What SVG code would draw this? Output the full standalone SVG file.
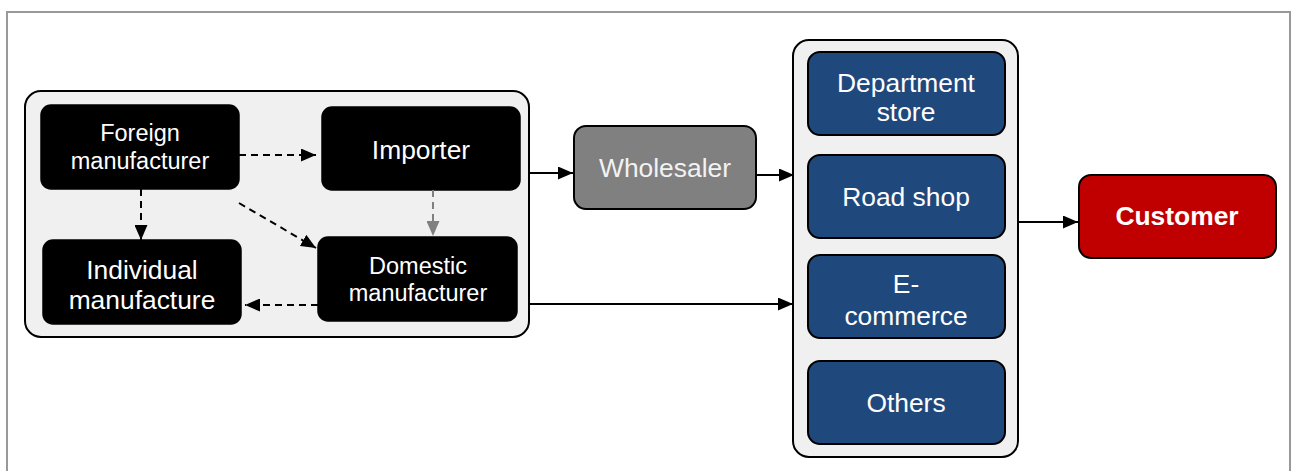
<svg xmlns="http://www.w3.org/2000/svg" width="1296" height="471" viewBox="0 0 1296 471">
<style>
text{font-family:"Liberation Sans",Arial,sans-serif;fill:#fff;text-anchor:middle}
.s{font-size:23.5px}
.b{font-size:26.4px}
.cont{fill:#f0f0f0;stroke:#000;stroke-width:2}
.blk{fill:#000;stroke:#000;stroke-width:1.5}
.blue{fill:#1f497d;stroke:#000;stroke-width:2}
.c{stroke:#000;stroke-width:2;fill:none}
.d{stroke-dasharray:7,5}
</style>
<defs>
<marker id="ab" viewBox="0 0 15 13" refX="15" refY="6.5" markerWidth="15" markerHeight="13" orient="auto" markerUnits="userSpaceOnUse"><path d="M0,0L15,6.5L0,13z" fill="#000"/></marker>
<marker id="ag" viewBox="0 0 15 13" refX="15" refY="6.5" markerWidth="15" markerHeight="13" orient="auto" markerUnits="userSpaceOnUse"><path d="M0,0L15,6.5L0,13z" fill="#808080"/></marker>
</defs>
<path d="M7,471V12H1290V471" fill="none" stroke="#999" stroke-width="2"/>
<g id="left-group"><rect class="cont" x="25" y="91" width="504" height="246" rx="16"/></g>
<g id="right-group"><rect class="cont" x="793" y="40" width="225" height="417" rx="16"/></g>
<g id="foreign"><rect class="blk" x="41" y="105" width="198" height="84" rx="10"/><text class="s" x="140" y="141">Foreign</text><text class="s" x="140" y="169">manufacturer</text></g>
<g id="importer"><rect class="blk" x="322" y="107" width="198" height="83" rx="10"/><text class="b" x="421" y="159">Importer</text></g>
<g id="individual"><rect class="blk" x="43" y="240" width="198" height="84" rx="10"/><text class="b" x="142" y="279">Individual</text><text class="b" x="142" y="309">manufacture</text></g>
<g id="domestic"><rect class="blk" x="318" y="237" width="199" height="84" rx="10"/><text class="s" x="418" y="274">Domestic</text><text class="s" x="418" y="301">manufacturer</text></g>
<g id="wholesaler"><rect x="574" y="126" width="182" height="83" rx="12" fill="#808080" stroke="#000" stroke-width="2"/><text class="b" x="665" y="177" style="fill:#f2f2f2">Wholesaler</text></g>
<g id="department"><rect class="blue" x="808" y="52" width="197" height="83" rx="12"/><text class="b" x="906" y="92">Department</text><text class="b" x="906" y="121">store</text></g>
<g id="roadshop"><rect class="blue" x="808" y="155" width="197" height="83" rx="12"/><text class="b" x="906" y="206">Road shop</text></g>
<g id="ecommerce"><rect class="blue" x="808" y="255" width="197" height="83" rx="12"/><text class="b" x="906" y="293">E-</text><text class="b" x="906" y="325">commerce</text></g>
<g id="others"><rect class="blue" x="808" y="361" width="197" height="83" rx="12"/><text class="b" x="906" y="412">Others</text></g>
<g id="customer"><rect x="1079" y="175" width="197" height="83" rx="12" fill="#c00000" stroke="#000" stroke-width="2"/><text class="b" x="1177" y="225" font-weight="bold">Customer</text></g>
<g id="connectors">
<path class="c d" d="M239,155H316" marker-end="url(#ab)"/>
<path class="c d" d="M141,189V240" marker-end="url(#ab)"/>
<path class="c d" d="M239,203L316,248" marker-end="url(#ab)"/>
<path class="c d" d="M433,190V236" style="stroke:#808080" marker-end="url(#ag)"/>
<path class="c d" d="M318,305H245" marker-end="url(#ab)"/>
<path class="c" d="M530,173H573" marker-end="url(#ab)"/>
<path class="c" d="M757,175H794" marker-end="url(#ab)"/>
<path class="c" d="M528,304H793" marker-end="url(#ab)"/>
<path class="c" d="M1018,222H1078" marker-end="url(#ab)"/>
</g>
</svg>
